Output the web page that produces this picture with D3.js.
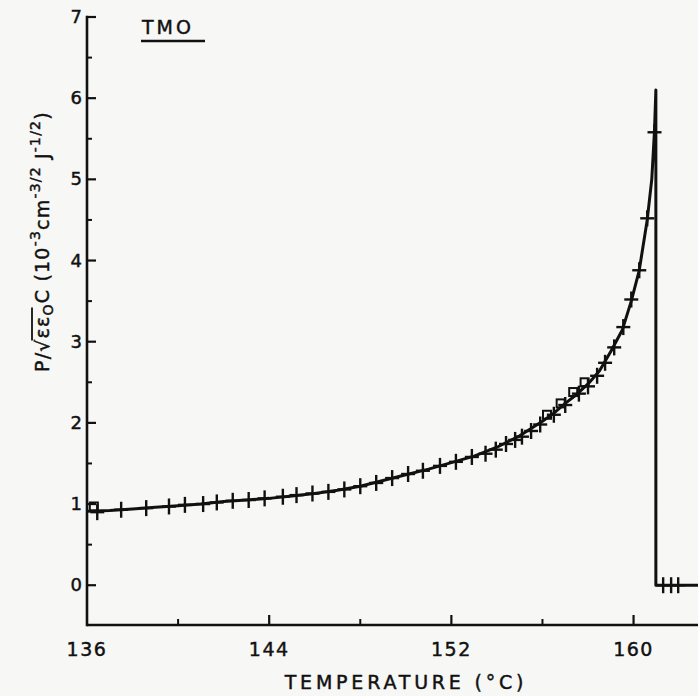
<!DOCTYPE html>
<html>
<head>
<meta charset="utf-8">
<script src="https://cdn.jsdelivr.net/npm/d3@7"></script>
<style>
  html, body { margin: 0; padding: 0; background: #f7f7f5; }
  svg { display: block; }
  text { font-family: "DejaVu Sans", "Liberation Sans", sans-serif; fill: #111; stroke: #111; stroke-width: 0.45px; }
</style>
</head>
<body>
<script>
// ---------- data ----------
const chartTitle = "TMO";
const xTitle = "TEMPERATURE (\u00B0C)";
const xMajorTicks = [136, 144, 152, 160];
const xMinorTicks = [140, 148, 156];
const yMajorTicks = [0, 1, 2, 3, 4, 5, 6, 7];
const yMinorTicks = [0.5, 1.5, 2.5, 3.5, 4.5, 5.5, 6.5];

// fitted curve (temperature, value)
const curveT = [136, 137, 138, 139, 140, 141, 142, 143, 144, 145, 146, 147, 148, 149, 150, 151, 152, 153, 154, 155, 156, 156.5, 157, 157.5, 158, 158.5, 159, 159.5, 159.9, 160.25, 160.6, 160.8, 160.92, 160.98, 160.98, 162.9];
const curveV = [0.91, 0.92, 0.94, 0.96, 0.98, 1.00, 1.03, 1.05, 1.07, 1.10, 1.13, 1.17, 1.22, 1.29, 1.36, 1.43, 1.51, 1.59, 1.70, 1.84, 2.02, 2.12, 2.24, 2.35, 2.48, 2.64, 2.88, 3.14, 3.50, 3.88, 4.50, 5.00, 5.60, 6.10, 0, 0];

// measured points: crosses
const crossT = [136.45, 137.5, 138.6, 139.6, 140.3, 141.1, 141.7, 142.4, 143.1, 143.8, 144.6, 145.2, 145.9, 146.6, 147.3, 148.0, 148.7, 149.4, 150.1, 150.75, 151.5, 152.2, 152.9, 153.5, 153.95, 154.4, 154.8, 155.1, 155.5, 155.9, 156.5, 157.0, 157.6, 158.0, 158.4, 158.75, 159.15, 159.55, 159.9, 160.25, 160.6, 160.92, 161.3, 161.65, 161.96];
const crossV = [0.90, 0.93, 0.95, 0.97, 0.99, 1.00, 1.02, 1.04, 1.05, 1.07, 1.09, 1.11, 1.13, 1.15, 1.18, 1.22, 1.26, 1.32, 1.37, 1.41, 1.47, 1.52, 1.58, 1.62, 1.67, 1.74, 1.79, 1.83, 1.90, 1.98, 2.10, 2.22, 2.36, 2.45, 2.58, 2.74, 2.93, 3.18, 3.52, 3.88, 4.52, 5.58, 0, 0, 0];

// measured points: open squares
const squareT = [136.3, 156.2, 156.8, 157.35, 157.85];
const squareV = [0.97, 2.10, 2.24, 2.38, 2.50];

// ---------- drawing ----------
const W = 698, H = 696;
const svg = d3.select("body").append("svg").attr("width", W).attr("height", H);
svg.append("rect").attr("width", W).attr("height", H).attr("fill", "#f7f7f5");

const x = d3.scaleLinear().domain([136, 162.83]).range([87, 698]);
const y = d3.scaleLinear().domain([-0.49, 7]).range([625, 17]);

const ink = "#111";
const axisW = 2.6;

// axes lines
svg.append("line").attr("x1", x(136)).attr("x2", W).attr("y1", y(-0.49)).attr("y2", y(-0.49))
  .attr("stroke", ink).attr("stroke-width", axisW);
svg.append("line").attr("x1", x(136)).attr("x2", x(136)).attr("y1", y(-0.49)).attr("y2", y(7))
  .attr("stroke", ink).attr("stroke-width", axisW).attr("stroke-linecap", "square");

// x ticks (inward, upward)
svg.selectAll(".xmaj").data(xMajorTicks.filter(d => d !== 136)).enter().append("line")
  .attr("x1", d => x(d)).attr("x2", d => x(d)).attr("y1", y(-0.49)).attr("y2", y(-0.49) - 10)
  .attr("stroke", ink).attr("stroke-width", 2.2);
svg.selectAll(".xmin").data(xMinorTicks).enter().append("line")
  .attr("x1", d => x(d)).attr("x2", d => x(d)).attr("y1", y(-0.49)).attr("y2", y(-0.49) - 6)
  .attr("stroke", ink).attr("stroke-width", 2);
svg.selectAll(".xlab").data(xMajorTicks).enter().append("text")
  .attr("x", d => x(d)).attr("y", 656).attr("text-anchor", "middle")
  .attr("font-size", 19).attr("letter-spacing", 1.5).text(d => d);

// y ticks (inward, rightward)
svg.selectAll(".ymaj").data(yMajorTicks).enter().append("line")
  .attr("x1", x(136)).attr("x2", x(136) + 9).attr("y1", d => y(d)).attr("y2", d => y(d))
  .attr("stroke", ink).attr("stroke-width", 2.2);
svg.selectAll(".ymin").data(yMinorTicks).enter().append("line")
  .attr("x1", x(136)).attr("x2", x(136) + 5).attr("y1", d => y(d)).attr("y2", d => y(d))
  .attr("stroke", ink).attr("stroke-width", 2);
svg.selectAll(".ylab").data(yMajorTicks).enter().append("text")
  .attr("x", 82).attr("y", d => y(d) + 6).attr("text-anchor", "end")
  .attr("font-size", 18).text(d => d);

// titles
svg.append("text").attr("x", 142).attr("y", 34).attr("font-size", 19)
  .attr("letter-spacing", 3).text(chartTitle);
svg.append("line").attr("x1", 141).attr("x2", 205).attr("y1", 41).attr("y2", 41)
  .attr("stroke", ink).attr("stroke-width", 2.4);

svg.append("text").attr("x", 406).attr("y", 689).attr("text-anchor", "middle")
  .attr("font-size", 19).attr("letter-spacing", 3.8).text(xTitle);

// y axis title
const yg = svg.append("g").attr("transform", "translate(49,372) rotate(-90)");
const yt = yg.append("text").attr("x", 0).attr("y", 0).attr("font-size", 19).attr("letter-spacing", 1.2);
yt.append("tspan").text("P/\u221A");
const eps = yt.append("tspan").text("\u03B5\u03B5");
yt.append("tspan").attr("dy", 4).attr("font-size", 14).text("O");
yt.append("tspan").attr("dy", -4).text("C (10");
yt.append("tspan").attr("dy", -9).attr("font-size", 14).text("-3");
yt.append("tspan").attr("dy", 9).text("cm");
yt.append("tspan").attr("dy", -9).attr("font-size", 14).text("-3/2");
yt.append("tspan").attr("dy", 9).text(" J");
yt.append("tspan").attr("dy", -9).attr("font-size", 14).text("-1/2");
yt.append("tspan").attr("dy", 9).text(")");
try {
  const b = eps.node().getBBox();
  yg.append("line").attr("x1", b.x - 2).attr("x2", b.x + b.width + 8)
    .attr("y1", b.y + 1).attr("y2", b.y + 1).attr("stroke", ink).attr("stroke-width", 1.8);
} catch (e) {}

// curve
const curve = curveT.map((t, i) => [t, curveV[i]]);
svg.append("path").datum(curve)
  .attr("d", d3.line().x(d => x(d[0])).y(d => y(d[1])))
  .attr("fill", "none").attr("stroke", ink).attr("stroke-width", 3).attr("stroke-linejoin", "round");

// crosses
const crosses = crossT.map((t, i) => [t, crossV[i]]);
const cg = svg.selectAll(".cross").data(crosses).enter().append("g")
  .attr("transform", d => `translate(${x(d[0])},${y(d[1])})`);
cg.append("line").attr("x1", -7).attr("x2", 7).attr("y1", 0).attr("y2", 0)
  .attr("stroke", ink).attr("stroke-width", 2.4);
cg.append("line").attr("x1", 0).attr("x2", 0).attr("y1", -8).attr("y2", 8)
  .attr("stroke", ink).attr("stroke-width", 2.4);

// squares
const squares = squareT.map((t, i) => [t, squareV[i]]);
svg.selectAll(".sq").data(squares).enter().append("rect")
  .attr("x", d => x(d[0]) - 4).attr("y", d => y(d[1]) - 4)
  .attr("width", 8).attr("height", 8)
  .attr("fill", "none").attr("stroke", ink).attr("stroke-width", 2);
</script>
</body>
</html>
